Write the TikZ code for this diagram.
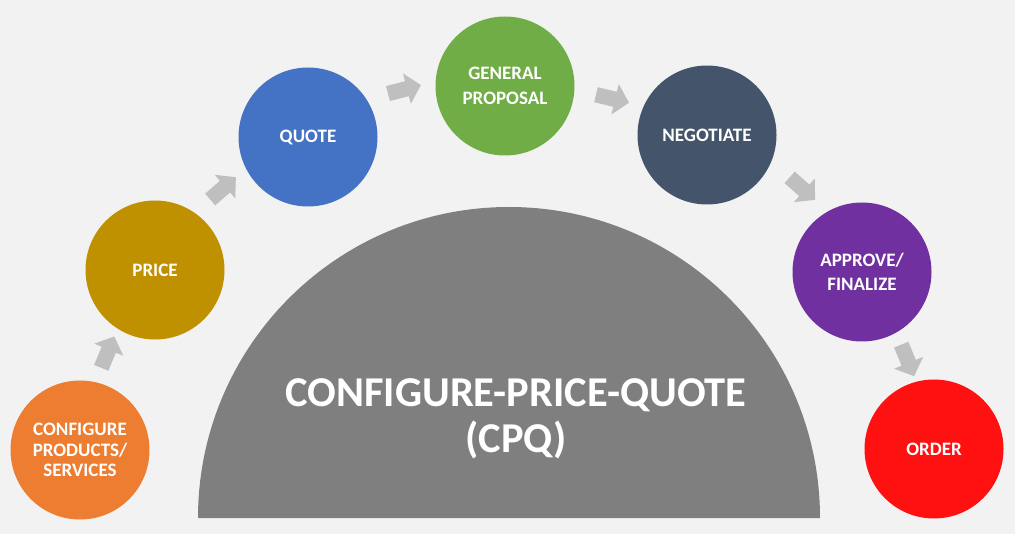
\documentclass[tikz,border=0pt]{standalone}
\usepackage{fontspec}
\setmainfont{Carlito}
\usetikzlibrary{shapes.arrows,calc}
\definecolor{bgc}{HTML}{F2F2F2}
\definecolor{domec}{HTML}{7F7F7F}
\definecolor{arrc}{HTML}{BFBFBF}
\definecolor{orangec}{HTML}{ED7D31}
\definecolor{goldc}{HTML}{BF9000}
\definecolor{bluec}{HTML}{4472C4}
\definecolor{greenc}{HTML}{70AD47}
\definecolor{slatec}{HTML}{44546A}
\definecolor{purplec}{HTML}{7030A0}
\definecolor{redc}{HTML}{FF1111}
\tikzset{
  stage/.style={circle, minimum size=139pt, inner sep=0pt, text=white, align=center,
    font=\fontsize{19}{20.5}\selectfont\bfseries},
  stagetwo/.style={stage, font=\fontsize{19}{24.5}\selectfont\bfseries},
  arrowblk/.style={single arrow, fill=arrc, draw=none, inner sep=7.5pt,
    single arrow head extend=8pt, single arrow tip angle=95, minimum height=34pt}
}
\begin{document}
\begin{tikzpicture}[x=1pt,y=-1pt]
	% background and dome
	\fill[bgc] (0,0) rectangle (1015,534);
	\useasboundingbox (0,0) rectangle (1015,534);
	\fill[domec] (198,518) arc[start angle=180, end angle=360, radius=311] -- cycle;
	\node[text=white, align=center, font=\fontsize{42.5}{46}\selectfont\bfseries] (title) at (516,419) {CONFIGURE-PRICE-QUOTE\\(CPQ)};
	% stages
	\node[stage, fill=orangec] (conf) at (80,450) {CONFIGURE\\PRODUCTS/\\SERVICES};
	\node[stage, fill=goldc] (price) at (155,270) {PRICE};
	\node[stage, fill=bluec] (quote) at (308,137) {QUOTE};
	\node[stagetwo, fill=greenc] (prop) at (505,86) {GENERAL\\PROPOSAL};
	\node[stage, fill=slatec] (nego) at (707,135) {NEGOTIATE};
	\node[stagetwo, fill=purplec] (appr) at (862,272) {APPROVE/\\FINALIZE};
	\node[stage, fill=redc] (order) at (934,449) {ORDER};
	% arrows between stages
	\foreach \a/\b/\off in {conf/price/12, price/quote/17, quote/prop/22, prop/nego/13, nego/appr/23, appr/order/9}
		\path ($(\a)!\off pt!90:(\b)$) -- node[arrowblk, sloped] {} ($(\b)!\off pt!-90:(\a)$);
\end{tikzpicture}
\end{document}
